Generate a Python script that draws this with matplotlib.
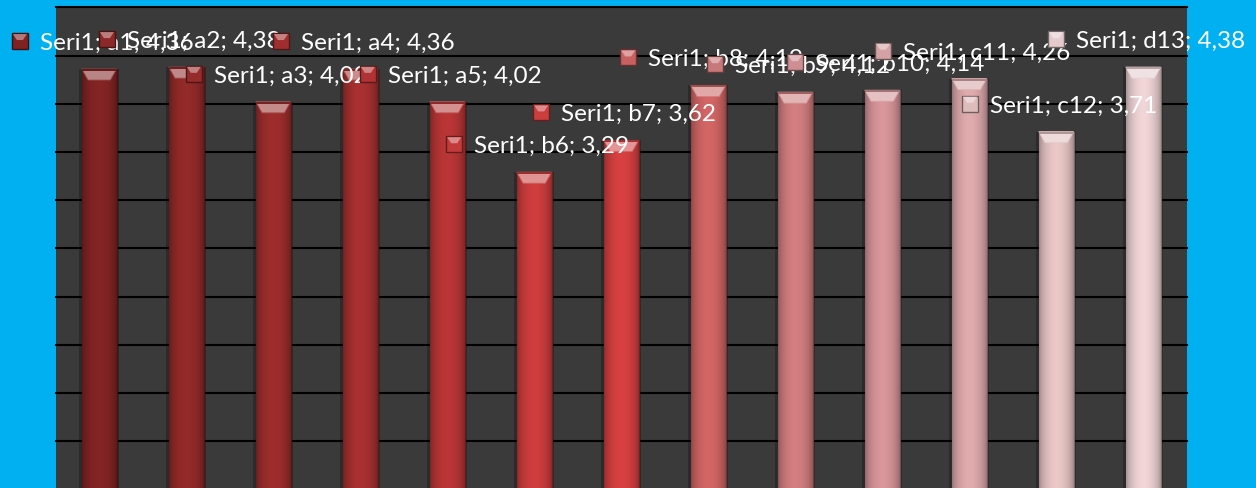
import numpy as np
import matplotlib
matplotlib.use('Agg')
import matplotlib.pyplot as plt
from matplotlib.colors import to_rgb
from matplotlib.patches import Rectangle, Polygon
from matplotlib.transforms import IdentityTransform, offset_copy

# ── data ──────────────────────────────────────────────────────────────────────
series_name = 'Seri1'
categories = ['a1', 'a2', 'a3', 'a4', 'a5', 'b6', 'b7',
              'b8', 'b9', 'b10', 'c11', 'c12', 'd13']
values = [4.36, 4.38, 4.02, 4.36, 4.02, 3.29, 3.62,
          4.19, 4.12, 4.14, 4.26, 3.71, 4.38]
bar_colors = ['#7E2222', '#8C2828', '#952B2B', '#A02E2E', '#B03333',
              '#C43A3A', '#CC3D3D', '#C86060', '#C87878', '#CE8E92',
              '#D4A2A4', '#DEBCBC', '#E4CACC']

BLUE = '#00B0F0'
PLOT_BG = '#3A3A3A'
LABEL_DY = 0.29          # data labels sit above the bar top
FONT = ['Lato', 'DejaVu Sans']


def shade(c, f):
    r, g, b = to_rgb(c)
    return tuple(min(1, max(0, v * f)) for v in (r, g, b))


def tint(c, a):
    r, g, b = to_rgb(c)
    return tuple(v + (1 - v) * a for v in (r, g, b))


W, H, DPI = 1256, 489, 100
fig = plt.figure(figsize=(W / DPI, H / DPI), dpi=DPI)
fig.patch.set_facecolor(BLUE)

# plot area: x 55.7..1186.7 px, value 5.0 at y=8.3 px, 0 at y=490.5 px
ax = fig.add_axes([55.7 / W, (H - 490.5) / H, 1131 / W, (490.5 - 8.3) / H])
ax.set_facecolor(PLOT_BG)

x = np.arange(len(categories))
bars = ax.bar(x, values, width=0.4, color=bar_colors, zorder=3,
              edgecolor=[shade(c, 0.55) for c in bar_colors], linewidth=0.8)

# soft shadow round the bars
ax.bar(x, values, width=0.46, color='black', alpha=0.25, zorder=2,
       linewidth=0)

# horizontal shading and bevelled tops
t = np.linspace(0, 1, 80)
prof = 0.70 + 0.36 * np.sin(np.pi * t) ** 0.6
bevel_h = 11 / 96.44
for rect, c in zip(bars, bar_colors):
    x0, w, h = rect.get_x(), rect.get_width(), rect.get_height()
    img = np.array([[shade(c, f) for f in prof]])
    im = ax.imshow(img, extent=[x0, x0 + w, 0, h], aspect='auto',
                   interpolation='bilinear', zorder=3.5)
    im.set_clip_path(rect)
    ins = w * 0.18
    top = Polygon([(x0, h), (x0 + w, h), (x0 + w - ins, h - bevel_h),
                   (x0 + ins, h - bevel_h)], closed=True,
                  facecolor=tint(c, 0.45), edgecolor=tint(c, 0.2),
                  linewidth=0.6, zorder=4)
    ax.add_patch(top)
    ax.add_patch(Rectangle((x0, h - 0.02), w, 0.02, facecolor=shade(c, 0.8),
                           linewidth=0, zorder=4.2))

ax.set_xlim(-0.5, len(categories) - 0.5)
ax.set_ylim(0, 5)
ax.set_yticks(np.arange(0, 5.01, 0.5))
ax.yaxis.grid(True, color='black', linewidth=1.5)
ax.xaxis.grid(False)
ax.set_axisbelow(True)
for gl in ax.get_ygridlines():
    gl.set_clip_on(False)
ax.tick_params(left=False, bottom=False, labelleft=False, labelbottom=False)
for s in ax.spines.values():
    s.set_visible(False)

# data labels with legend keys
texts = []
for i, (cat, v) in enumerate(zip(categories, values)):
    label = f'{series_name}; {cat}; {v:.2f}'.replace('.', ',')
    tr = offset_copy(ax.transData, fig=fig, x=17.5, y=-7.8, units='dots')
    txt = ax.text(i, v + LABEL_DY, label, transform=tr, ha='center',
                  va='baseline', color='white', fontsize=17.5,
                  family=FONT, clip_on=False, zorder=20 + 2 * i + 1)
    texts.append(txt)

fig.canvas.draw()
renderer = fig.canvas.get_renderer()
for i, (txt, v, c) in enumerate(zip(texts, values, bar_colors)):
    bb = txt.get_window_extent(renderer)
    _, yc = ax.transData.transform((i, v + LABEL_DY))
    kx = bb.x0 - 28
    ky = yc - 8
    z = 20 + 2 * i
    key = Rectangle((kx, ky), 16, 16, facecolor=c, edgecolor=shade(c, 0.5),
                    linewidth=1.0, transform=IdentityTransform(),
                    clip_on=False, zorder=z)
    ax.add_patch(key)
    bev = Polygon([(kx + 1, ky + 15), (kx + 15, ky + 15), (kx + 11, ky + 9),
                   (kx + 5, ky + 9)], closed=True, facecolor=tint(c, 0.4),
                  linewidth=0, transform=IdentityTransform(),
                  clip_on=False, zorder=z)
    ax.add_patch(bev)

fig.savefig('out.png', dpi=DPI, facecolor=BLUE)
